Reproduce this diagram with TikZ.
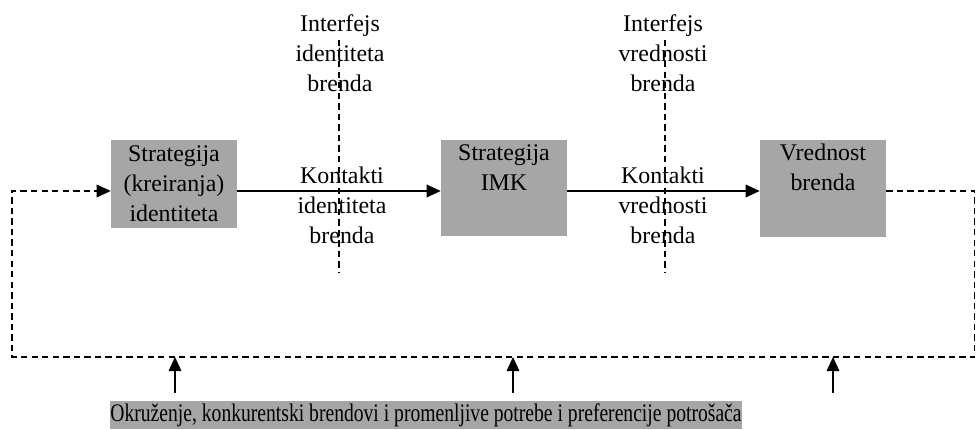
\documentclass[tikz,border=0pt]{standalone}
\usepackage{xcolor}
\usepackage{tikz}
\usepackage{fontspec}
\setmainfont{Liberation Serif}
\definecolor{boxgray}{RGB}{166, 166, 166}
\usetikzlibrary{arrows.meta, positioning, calc}

\begin{document}
\begin{tikzpicture}[
    stage/.style={fill=boxgray, text width=3.15cm, inner xsep=0pt, inner ysep=0.1cm, align=center, font=\fontsize{17}{21.3}\selectfont},
    caption/.style={align=center, font=\fontsize{17}{21.3}\selectfont},
    arrow/.style={-{Triangle[length=10pt, width=9pt]}, line width=1pt},
    loop/.style={dash pattern=on 4.5pt off 3pt, line width=0.9pt},
    interface/.style={dash pattern=on 4.5pt off 3pt, line width=0.9pt}
]
    \useasboundingbox (0, 0) rectangle (24.4, 10.75);

    % Main flow
    \coordinate (axis) at (0, 5.975);
    \node[stage, minimum height=2.2cm] (s1) at (4.35, 6.15) {Strategija\\(kreiranja)\\identiteta};
    \node[stage, anchor=north, text depth=1.8cm] (s2) at (12.6, 7.25) {Strategija\\IMK};
    \node[stage, anchor=north, text depth=1.8cm] (s3) at (20.575, 7.25) {Vrednost\\brenda};

    % Arrows
    \draw[arrow] (s1.east |- axis) -- (s2.west |- axis);
    \draw[arrow] (s2.east |- axis) -- (s3.west |- axis);

    % Interfaces and contacts
    \node[caption] (if1) at (8.5, 9.42) {Interfejs\\identiteta\\brenda};
    \node[caption] (if2) at (16.575, 9.42) {Interfejs\\vrednosti\\brenda};
    \node[caption] (k1) at (8.55, 5.625) {Kontakti\\identiteta\\brenda};
    \node[caption] (k2) at (16.575, 5.625) {Kontakti\\vrednosti\\brenda};
    \coordinate (i1t) at (8.475, 9.75);
    \coordinate (i1b) at (8.475, 3.925);
    \coordinate (i2t) at (16.625, 9.75);
    \coordinate (i2b) at (16.625, 3.925);
    \draw[interface] (i1t) -- (i1b);
    \draw[interface] (i2t) -- (i2b);

    % Feedback loop
    \coordinate (r1) at (24.37, 5.975);
    \coordinate (r2) at (24.37, 1.825);
    \coordinate (l2) at (0.3, 1.825);
    \coordinate (l1) at (0.3, 5.975);
    \draw[arrow, loop] (s3.east |- axis) -- (r1) -- (r2) -- (l2) -- (l1) -- (s1.west |- axis);

    % Environment
    \node[fill=boxgray, inner sep=0pt, minimum width=15.8cm, minimum height=0.7cm,
          font=\fontsize{18}{20}\selectfont\addfontfeature{FakeStretch=0.775}] (env) at (10.65, 0.375)
        {Okruženje, konkurentski brendovi i promenljive potrebe i preferencije potrošača};
    \foreach \x [count=\i] in {4.375, 12.825, 20.825} {
        \coordinate (e\i) at (\x, 1.825);
        \draw[arrow] (env.north -| e\i) ++(0, 0.2) -- (e\i);
    }
\end{tikzpicture}
\end{document}
